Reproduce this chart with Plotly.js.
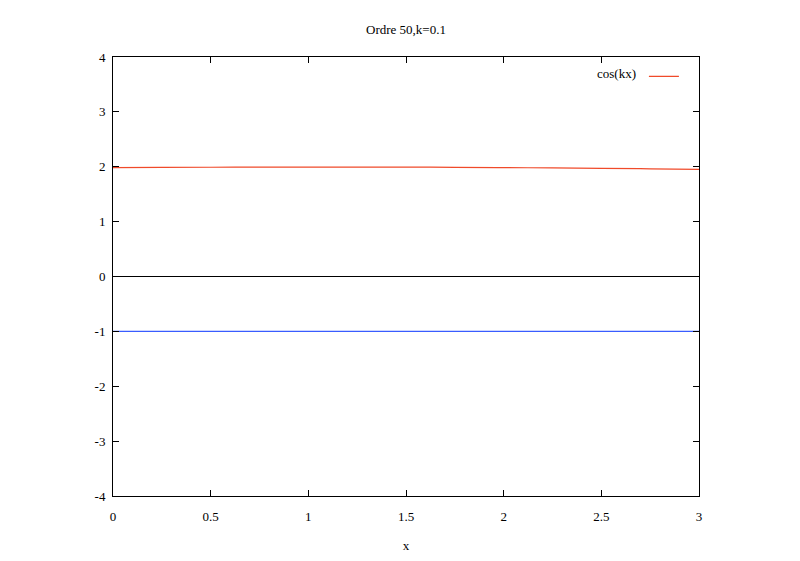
<!DOCTYPE html>
<html>
<head>
<meta charset="utf-8">
<script src="https://cdn.plot.ly/plotly-3.0.1.min.js"></script>
<style>html,body{margin:0;padding:0;background:#fff;}#chart{width:800px;height:561px;}</style>
</head>
<body>
<div id="chart"></div>
<script>
// Data
var xValues = [0, 0.25, 0.5, 0.75, 1, 1.25, 1.5, 1.75, 2, 2.25, 2.5, 2.75, 3];
var cosSeries = [1.985, 1.988, 1.991, 1.993, 1.994, 1.994, 1.993, 1.99, 1.985, 1.979, 1.972, 1.963, 1.953];
var zeroSeries = [0, 0, 0, 0, 0, 0, 0, 0, 0, 0, 0, 0, 0];
var minusOneSeries = [-1, -1, -1, -1, -1, -1, -1, -1, -1, -1, -1, -1, -1];
var xTicks = [0, 0.5, 1, 1.5, 2, 2.5, 3];
var xTickLabels = ['0', '0.5', '1', '1.5', '2', '2.5', '3'];
var yTicks = [-4, -3, -2, -1, 0, 1, 2, 3, 4];
var yTickLabels = ['-4', '-3', '-2', '-1', '0', '1', '2', '3', '4'];
var legendLabel = 'cos(kx)';
var titleText = 'Ordre 50,k=0.1';
var xTitle = 'x';

var font = {family: 'Times New Roman, Liberation Serif, DejaVu Serif, serif', size: 13, color: '#000'};

var traces = [
  {x: xValues, y: zeroSeries, mode: 'lines', line: {color: '#000000', width: 1.2}, showlegend: false, hoverinfo: 'skip'},
  {x: xValues, y: minusOneSeries, mode: 'lines', line: {color: '#3a5cff', width: 1.2}, showlegend: false, hoverinfo: 'skip'},
  {x: xValues, y: cosSeries, mode: 'lines', line: {color: '#f04a2a', width: 1.2, shape: 'spline'}, name: ' ', showlegend: true}
];

var axisCommon = {
  showgrid: false, zeroline: false, showline: true, linecolor: '#000', linewidth: 1,
  ticks: 'inside', ticklen: 6, tickcolor: '#000', tickwidth: 1, mirror: 'allticks',
  tickfont: font, tickmode: 'array'
};

var layout = {
  width: 800, height: 561,
  paper_bgcolor: '#fff', plot_bgcolor: '#fff',
  font: font,
  margin: {l: 113, r: 101, t: 57, b: 65},
  title: {text: titleText, font: font, x: 0.5, xref: 'paper', y: 1 - 29/561, yref: 'container', yanchor: 'middle'},
  xaxis: Object.assign({}, axisCommon, {range: [0, 3], tickvals: xTicks, ticktext: xTickLabels, ticklabelstandoff: 8,
    title: {text: xTitle, font: font, standoff: 18}}),
  yaxis: Object.assign({}, axisCommon, {range: [-4, 4], tickvals: yTicks, ticktext: yTickLabels, ticklabelstandoff: 4}),
  showlegend: true,
  legend: {x: 0.906, y: 0.99, xanchor: 'left', yanchor: 'top', bgcolor: 'rgba(0,0,0,0)', borderwidth: 0, font: font},
  annotations: [{text: legendLabel, xref: 'paper', yref: 'paper', x: 0.896, y: (496-74)/438, xanchor: 'right', yanchor: 'middle', showarrow: false, font: font}]
};

Plotly.newPlot('chart', traces, layout, {staticPlot: true});
</script>
</body>
</html>
